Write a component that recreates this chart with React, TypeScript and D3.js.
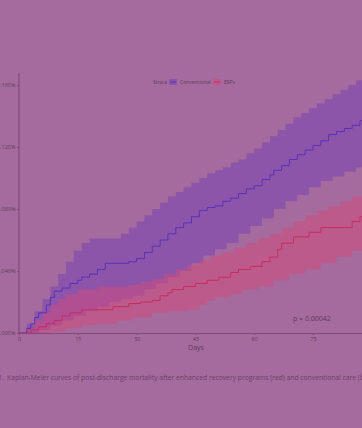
import React, { useEffect, useRef } from "react";
import * as d3 from "d3";

// cumulative mortality (day, value)
const convDays = [0, 2, 3, 4, 5, 7, 8, 9, 11, 13, 15, 16, 18, 20, 22, 26, 28, 30, 32, 34, 36, 38, 40, 42, 44, 46, 48, 50, 52, 54, 56, 58, 60, 62, 64, 65, 67, 69, 71, 73, 75, 77, 79, 81, 83, 85, 87, 89];
const convEst = [0, 0.003, 0.006, 0.01, 0.013, 0.018, 0.023, 0.027, 0.029, 0.032, 0.034, 0.036, 0.038, 0.041, 0.045, 0.045, 0.046, 0.048, 0.052, 0.056, 0.06, 0.064, 0.068, 0.071, 0.075, 0.079, 0.081, 0.082, 0.085, 0.087, 0.09, 0.093, 0.095, 0.099, 0.102, 0.105, 0.108, 0.112, 0.115, 0.118, 0.121, 0.124, 0.128, 0.13, 0.132, 0.134, 0.137, 0.14];

const convUpDays = [0, 2, 4, 6, 8, 10, 12, 14, 16, 18, 24, 26, 28, 30, 32, 34, 36, 38, 40, 42, 44, 46, 48, 50, 52, 54, 56, 58, 60, 62, 64, 66, 68, 70, 72, 74, 76, 78, 80, 82, 84, 86, 88];
const convUpper = [0, 0.006, 0.014, 0.022, 0.03, 0.038, 0.046, 0.053, 0.058, 0.061, 0.061, 0.064, 0.068, 0.072, 0.076, 0.08, 0.084, 0.088, 0.091, 0.094, 0.097, 0.1, 0.103, 0.105, 0.107, 0.11, 0.112, 0.116, 0.119, 0.123, 0.127, 0.131, 0.135, 0.139, 0.142, 0.145, 0.148, 0.151, 0.154, 0.157, 0.16, 0.163, 0.166];

const convLoDays = [0, 5, 8, 11, 14, 17, 20, 23, 26, 29, 32, 35, 38, 41, 44, 47, 50, 53, 56, 59, 62, 65, 68, 71, 74, 77, 80, 83, 86, 89];
const convLower = [0, 0.002, 0.005, 0.008, 0.011, 0.014, 0.017, 0.02, 0.022, 0.024, 0.028, 0.032, 0.036, 0.04, 0.045, 0.05, 0.054, 0.058, 0.064, 0.069, 0.074, 0.08, 0.085, 0.089, 0.094, 0.098, 0.101, 0.104, 0.107, 0.11];

const erpDays = [0, 3, 5, 7, 9, 11, 13, 16, 21, 24, 28, 31, 34, 36, 38, 39, 42, 45, 48, 51, 54, 56, 59, 62, 64, 66, 67, 70, 74, 77, 83, 85, 87, 89];
const erpEst = [0, 0.002, 0.004, 0.006, 0.008, 0.011, 0.013, 0.015, 0.015, 0.017, 0.019, 0.02, 0.021, 0.024, 0.026, 0.028, 0.03, 0.032, 0.034, 0.036, 0.039, 0.041, 0.043, 0.046, 0.049, 0.054, 0.058, 0.062, 0.065, 0.068, 0.068, 0.072, 0.075, 0.078];

const erpUpDays = [0, 2, 4, 6, 8, 10, 12, 15, 20, 25, 28, 31, 34, 37, 40, 43, 46, 49, 52, 55, 58, 61, 64, 67, 70, 73, 76, 79, 82, 85, 88];
const erpUpper = [0, 0.003, 0.008, 0.013, 0.018, 0.022, 0.025, 0.028, 0.03, 0.03, 0.031, 0.033, 0.035, 0.038, 0.041, 0.044, 0.047, 0.05, 0.052, 0.055, 0.058, 0.061, 0.064, 0.068, 0.072, 0.076, 0.079, 0.082, 0.085, 0.088, 0.092];

const erpLoDays = [0, 8, 12, 16, 20, 25, 29, 34, 38, 43, 46, 48, 50, 54, 57, 61, 65, 69, 73, 77, 81, 85, 89];
const erpLower = [0, 0.001, 0.003, 0.005, 0.006, 0.008, 0.01, 0.013, 0.014, 0.015, 0.018, 0.021, 0.023, 0.025, 0.028, 0.03, 0.034, 0.038, 0.041, 0.045, 0.049, 0.053, 0.056];

const yTicks = [0, 0.04, 0.08, 0.12, 0.16];
const xTicks = [0, 15, 30, 45, 60, 75, 90];
const strata = ["Conventional", "ERPs"];

const W = 362, H = 428;
const BG = "#a66b9e";
const INK = "#5e3a5c";

// merge separate lower/upper step series into one band on a common day grid
function band(loD: number[], lo: number[], upD: number[], up: number[]) {
  const days = Array.from(new Set([...loD, ...upD, 90])).sort((a, b) => a - b);
  const at = (ds: number[], vs: number[], t: number) => {
    const i = d3.bisectRight(ds, t) - 1;
    return vs[Math.max(0, i)];
  };
  return days.map(t => ({ t, lo: at(loD, lo, t), hi: at(upD, up, t) }));
}

export default function App() {
  const ref = useRef<SVGSVGElement>(null);

  useEffect(() => {
    const svg = d3.select(ref.current);
    svg.selectAll("*").remove();

    const x = d3.scaleLinear().domain([0, 90]).range([19, 19 + 90 * 3.92]);
    const y = d3.scaleLinear().domain([0, 0.16]).range([333, 85]);

    svg.append("rect").attr("width", W).attr("height", H).attr("fill", BG);

    const g = svg.append("g");

    const area = d3.area<any>()
      .curve(d3.curveStepAfter)
      .x(d => x(d.t)).y0(d => y(d.lo)).y1(d => y(d.hi));

    const convBand = band(convLoDays, convLower, convUpDays, convUpper);
    const erpBand = band(erpLoDays, erpLower, erpUpDays, erpUpper);

    g.append("path").datum(convBand).attr("d", area)
      .attr("fill", "#723fb6").attr("fill-opacity", 0.5);
    g.append("path").datum(erpBand).attr("d", area)
      .attr("fill", "#d4497a").attr("fill-opacity", 0.5);

    const stepPath = (ds: number[], vs: number[]) => {
      const pts = ds.map((d, i) => [x(d), y(vs[i])] as [number, number]);
      pts.push([x(90), y(vs[vs.length - 1])]);
      return d3.line().curve(d3.curveStepAfter)(pts);
    };
    g.append("path").attr("d", stepPath(convDays, convEst))
      .attr("fill", "none").attr("stroke", "#5a30b8").attr("stroke-width", 1);
    g.append("path").attr("d", stepPath(erpDays, erpEst))
      .attr("fill", "none").attr("stroke", "#c82c60").attr("stroke-width", 1);

    // axes
    const yAxis = svg.append("g").attr("transform", "translate(19,0)")
      .call(d3.axisLeft(y).tickValues(yTicks).tickSize(2).tickFormat(d => d3.format(".3f")(+d) + "%"));
    yAxis.select(".domain").attr("d", `M0,73V333`);
    const xAxis = svg.append("g").attr("transform", "translate(0,333)")
      .call(d3.axisBottom(x).tickValues(xTicks).tickSize(2).tickFormat(d3.format("d")));
    [yAxis, xAxis].forEach(a => {
      a.selectAll(".domain").attr("stroke", "#7d4a7a").attr("stroke-width", 1.2);
      a.selectAll(".tick line").attr("stroke", "#7d4a7a");
      a.selectAll("text").attr("fill", INK).attr("font-size", 5.5)
        .attr("font-family", "Open Sans, sans-serif");
    });
    yAxis.selectAll(".tick text").attr("x", -3.5);
    xAxis.selectAll(".tick text").attr("y", 4);

    svg.append("text").attr("x", 196).attr("y", 350).attr("text-anchor", "middle")
      .attr("font-size", 7).attr("fill", INK).attr("font-family", "Open Sans, sans-serif")
      .text("Days");

    svg.append("text").attr("x", 293).attr("y", 321)
      .attr("font-size", 7).attr("fill", INK).attr("font-family", "Open Sans, sans-serif")
      .text("p = 0.00042");

    // legend
    const lg = svg.append("g").attr("font-family", "Open Sans, sans-serif").attr("font-size", 5).attr("fill", INK);
    lg.append("text").attr("x", 153).attr("y", 84).text("Strata");
    const fills = ["#723fb6", "#d4497a"];
    const strokes = ["#5a30b8", "#c82c60"];
    const lx = [169, 213];
    strata.forEach((s, i) => {
      lg.append("rect").attr("x", lx[i]).attr("y", 79).attr("width", 8).attr("height", 6)
        .attr("fill", fills[i]).attr("fill-opacity", 0.5);
      lg.append("line").attr("x1", lx[i] + 1).attr("x2", lx[i] + 7).attr("y1", 82).attr("y2", 82)
        .attr("stroke", strokes[i]).attr("stroke-width", 1);
      lg.append("text").attr("x", lx[i] + 11).attr("y", 84).text(s);
    });

    // caption, cut at both edges as in the page
    const cap = svg.append("g").attr("font-family", "Open Sans, sans-serif").attr("font-size", 6.75).attr("fill", "#6a3f68");
    cap.append("text").attr("x", 4).attr("y", 380).attr("text-anchor", "end").text("Figure 1.");
    cap.append("text").attr("x", 7).attr("y", 380)
      .text("Kaplan-Meier curves of post-discharge mortality after enhanced recovery programs (red) and conventional care (blue).");
  }, []);

  return (
    <svg ref={ref} width={W} height={H}
      style={{ position: "fixed", left: 0, top: 0, display: "block" }} />
  );
}
